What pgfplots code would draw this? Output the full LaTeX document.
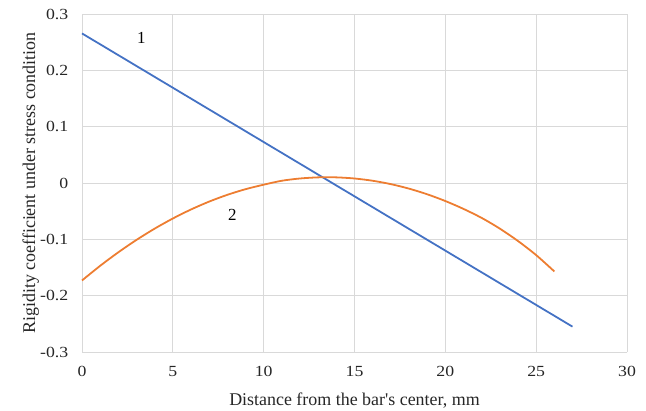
\documentclass[border=0pt]{standalone}
\usepackage{pgfplots}
\pgfplotsset{compat=1.18}
\usepackage{fontspec}
\setmainfont{Liberation Serif}
\newfontfamily\tickfont{Liberation Serif}[FakeStretch=1.15]
\definecolor{ser1}{HTML}{4472C4}
\definecolor{ser2}{HTML}{ED7D31}
\definecolor{gridc}{HTML}{D9D9D9}
\begin{document}
\begin{tikzpicture}
\begin{axis}[
  scale only axis,
  width=545bp, height=338bp,
  xmin=0, xmax=30, ymin=-0.3, ymax=0.3,
  xtick={0,5,10,15,20,25,30},
  xticklabels={0,5,10,15,20,25,30},
  ytick={-0.3,-0.2,-0.1,0,0.1,0.2,0.3},
  yticklabels={-0.3,-0.2,-0.1,0,0.1,0.2,0.3},
  grid=major,
  major grid style={draw=gridc, line width=0.9pt},
  axis x line*=bottom,
  axis y line*=left,
  x axis line style={draw=gridc, line width=0.9pt, -},
  y axis line style={draw=none},
  major tick length=0pt,
  tick style={draw=none},
  ticklabel style={font=\tickfont\fontsize{15.5}{17}\selectfont, text=black!85, inner sep=0pt},
  xticklabel style={anchor=north, yshift=-14bp},
  yticklabel style={anchor=east, xshift=-13.5bp},
  xlabel={Distance from the bar\textquotesingle s center, mm},
  ylabel={Rigidity coefficient under stress condition},
  label style={font=\fontsize{18}{20}\selectfont, text=black!85, inner sep=0pt},
  xlabel style={at={(axis description cs:0.5,0)}, anchor=base, yshift=-53bp},
  every axis y label/.append style={at={(axis description cs:-0.0862,0.5)}, anchor=base},
  clip=false,
]
\coordinate (O) at (rel axis cs:0,0);
\addplot[ser1, line width=1.8pt] coordinates {(0,0.2655) (27.0,-0.255)};
\addplot[ser2, line width=1.8pt, smooth] coordinates {
(0,-0.173) (1,-0.147) (2,-0.123) (3,-0.101) (4,-0.081) (5,-0.063)
(6,-0.047) (7,-0.033) (8,-0.021) (9,-0.011) (10,-0.003) (11,0.004)
(12,0.008) (13,0.010) (14,0.010) (15,0.008) (16,0.004) (17,-0.002)
(18,-0.010) (19,-0.020) (20,-0.032) (21,-0.046) (22,-0.062) (23,-0.081)
(24,-0.103) (25,-0.128) (26.0,-0.157)};
\node[font=\fontsize{17}{18}\selectfont] at (axis cs:3.27,0.257) {1};
\node[font=\fontsize{17}{18}\selectfont] at (axis cs:8.28,-0.057) {2};
\end{axis}
\pgfresetboundingbox
\path[use as bounding box] (O) ++(-82bp,-59bp) rectangle ++(646bp,411bp);
\end{tikzpicture}
\end{document}
